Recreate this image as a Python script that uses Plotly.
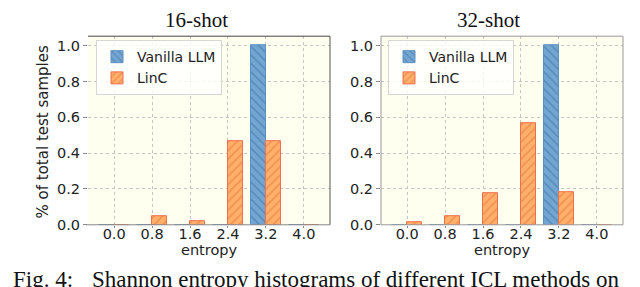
import plotly.graph_objects as go

bins = [0.0, 0.8, 1.6, 2.4, 3.2, 4.0]
tick_labels = ["0.0", "0.8", "1.6", "2.4", "3.2", "4.0"]
y_ticks = [0.0, 0.2, 0.4, 0.6, 0.8, 1.0]
y_tick_labels = ["0.0", "0.2", "0.4", "0.6", "0.8", "1.0"]
vanilla_16 = [0.0, 0.0, 0.0, 0.0, 1.0, 0.0]
linc_16 = [0.0, 0.05, 0.02, 0.465, 0.465, 0.0]
vanilla_32 = [0.0, 0.0, 0.0, 0.0, 1.0, 0.0]
linc_32 = [0.016, 0.047, 0.177, 0.565, 0.184, 0.0]
titles = ["16-shot", "32-shot"]
series_names = ["Vanilla LLM", "LinC"]

W, H = 640, 287
BAR_W = 0.32
BG = "#fffff0"
BLUE = "#74a6d2"
BLUE_EDGE = "#5d8fc2"
BLUE_HATCH = "#3f72a8"
ORANGE = "#ffb06a"
ORANGE_EDGE = "#ee6e4e"
ORANGE_HATCH = "#e8743c"
SANS = "DejaVu Sans"
SERIF = "Liberation Serif"

left_dom = [80 / W, 322 / W]
right_dom = [373 / W, 615 / W]
y_dom = [(H - 223) / H, (H - 29) / H]

fig = go.Figure()

panels = [
    (vanilla_16, linc_16, "x", "y", "legend"),
    (vanilla_32, linc_32, "x2", "y2", "legend2"),
]
for van, lin, xa, ya, lg in panels:
    fig.add_trace(go.Bar(
        x=bins, y=van, width=BAR_W, offset=-BAR_W, name=series_names[0],
        xaxis=xa, yaxis=ya, legend=lg,
        marker=dict(color=BLUE, line=dict(color=BLUE_EDGE, width=1),
                    pattern=dict(shape="\\", fgcolor=BLUE_HATCH, size=6,
                                 solidity=0.3, fillmode="overlay")),
    ))
    fig.add_trace(go.Bar(
        x=bins, y=lin, width=BAR_W, offset=0, name=series_names[1],
        xaxis=xa, yaxis=ya, legend=lg,
        marker=dict(color=ORANGE, line=dict(color=ORANGE_EDGE, width=1),
                    pattern=dict(shape="/", fgcolor=ORANGE_HATCH, size=6,
                                 solidity=0.3, fillmode="overlay")),
    ))

xcommon = dict(range=[-0.552, 4.552], tickvals=bins, ticktext=tick_labels,
               showgrid=True, gridcolor="#c4c4c4", griddash="dot", gridwidth=1,
               ticks="outside", ticklen=2, tickcolor="#888", zeroline=False,
               ticklabelstandoff=-6,
               showline=False, tickfont=dict(family=SANS, size=14.5, color="#222"))
ycommon = dict(range=[0, 1.0525], tickvals=y_ticks, ticktext=y_tick_labels,
               showgrid=True, gridcolor="#c4c4c4", griddash="dot", gridwidth=1,
               ticks="outside", ticklen=4, tickcolor="#888", zeroline=False,
               showline=False, tickfont=dict(family=SANS, size=14.5, color="#222"))

fig.update_layout(
    width=W, height=H, margin=dict(l=0, r=0, t=0, b=0),
    paper_bgcolor="white", plot_bgcolor=BG,
    barmode="overlay", bargap=0,
    xaxis=dict(domain=left_dom, anchor="y", **xcommon),
    yaxis=dict(domain=y_dom, anchor="x", **ycommon),
    xaxis2=dict(domain=right_dom, anchor="y2", **xcommon),
    yaxis2=dict(domain=y_dom, anchor="x2", **ycommon),
    legend=dict(x=88 / W, y=(H - 33) / H, xanchor="left", yanchor="top",
                bgcolor="rgba(255,255,255,0.8)", bordercolor="#d6d6d6", borderwidth=1,
                font=dict(family=SANS, size=14, color="#222"), itemwidth=30,
                tracegroupgap=0),
    legend2=dict(x=380 / W, y=(H - 33) / H, xanchor="left", yanchor="top",
                 bgcolor="rgba(255,255,255,0.8)", bordercolor="#d6d6d6", borderwidth=1,
                 font=dict(family=SANS, size=14, color="#222"), itemwidth=30,
                 tracegroupgap=0),
)

# spines
shapes = [
    dict(type="line", xref="paper", yref="paper", x0=left_dom[0], x1=left_dom[1], y0=y_dom[1], y1=y_dom[1], line=dict(color="#444", width=1)),
    dict(type="line", xref="paper", yref="paper", x0=left_dom[1], x1=left_dom[1], y0=y_dom[0], y1=y_dom[1], line=dict(color="#555", width=1)),
    dict(type="line", xref="paper", yref="paper", x0=left_dom[0] - 2 / W, x1=left_dom[1], y0=y_dom[0], y1=y_dom[0], line=dict(color="#888", width=1)),
    dict(type="rect", xref="paper", yref="paper", x0=right_dom[0], x1=right_dom[1], y0=y_dom[0], y1=y_dom[1], line=dict(color="#999", width=1)),
]
fig.update_layout(shapes=shapes)

ann = []
ann.append(dict(text=titles[0], x=188 / W, y=(H - 12.5) / H, xref="paper", yref="paper",
                showarrow=False, xanchor="center", yanchor="middle",
                font=dict(family=SERIF, size=21, color="#111")))
ann.append(dict(text=titles[1], x=480 / W, y=(H - 12.5) / H, xref="paper", yref="paper",
                showarrow=False, xanchor="center", yanchor="middle",
                font=dict(family=SERIF, size=21, color="#111")))
for cx in [201, 494]:
    ann.append(dict(text="entropy", x=cx / W, y=(H - 249) / H, xref="paper", yref="paper",
                    showarrow=False, xanchor="center", yanchor="middle",
                    font=dict(family=SANS, size=14.5, color="#222")))
ann.append(dict(text="% of total test samples", x=35 / W, y=(H - 128) / H, xref="paper", yref="paper",
                showarrow=False, xanchor="center", yanchor="middle", textangle=-90,
                font=dict(family=SANS, size=15, color="#222")))
ann.append(dict(text="Fig. 4:", x=3 / W, y=(H - 279) / H, xref="paper", yref="paper",
                showarrow=False, xanchor="left", yanchor="middle",
                font=dict(family=SERIF, size=23, color="#111")))
ann.append(dict(text="Shannon entropy histograms of different ICL methods on", x=82 / W, y=(H - 279) / H,
                xref="paper", yref="paper", showarrow=False, xanchor="left", yanchor="middle",
                font=dict(family=SERIF, size=23, color="#111")))
fig.update_layout(annotations=ann)

fig.write_html("out.html")
